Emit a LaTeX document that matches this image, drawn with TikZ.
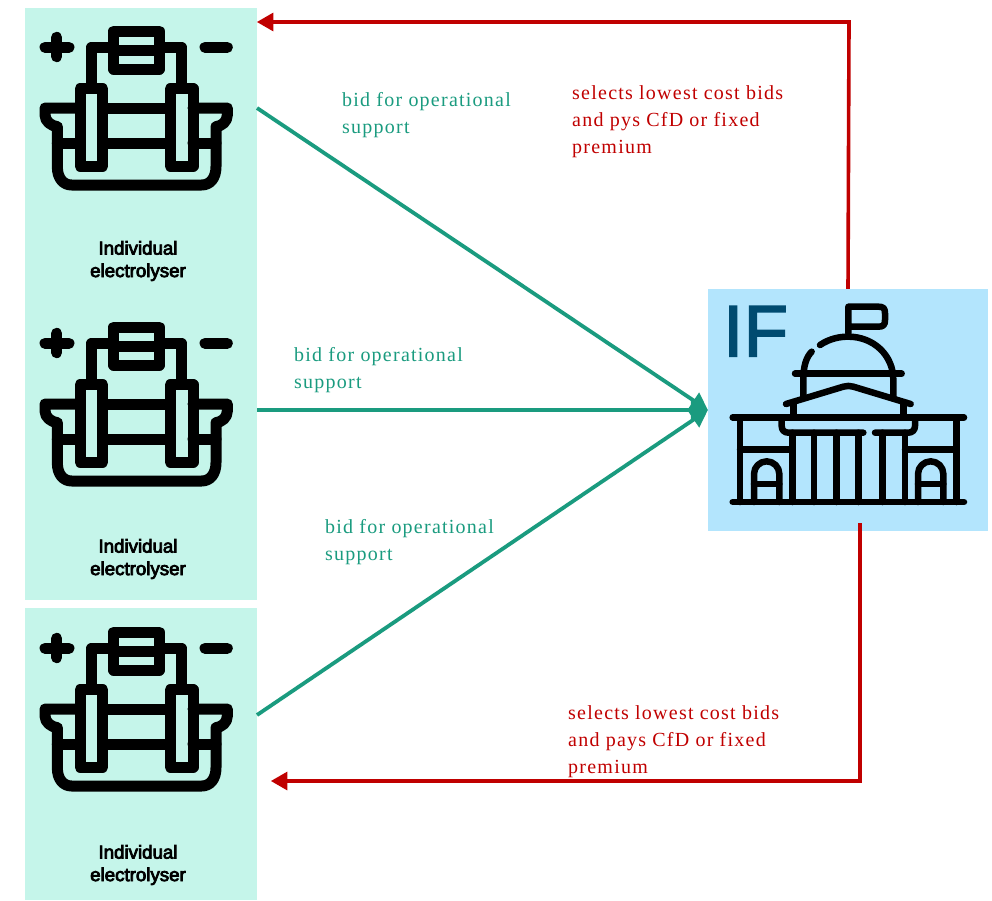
\documentclass[tikz,border=0pt]{standalone}
\usepackage{fontspec}
\setmainfont[LetterSpace=6.2]{Liberation Serif}
\newfontfamily\boxfont[FakeBold=4]{Liberation Sans}
\newfontfamily\iffont[FakeBold=2]{Liberation Sans}
\usetikzlibrary{calc}
\usetikzlibrary{arrows}
\definecolor{boxgreen}{HTML}{C5F5EA}
\definecolor{boxblue}{HTML}{B3E5FD}
\definecolor{bidgreen}{HTML}{1A9B7F}
\definecolor{payred}{HTML}{C00000}
\definecolor{ifblue}{HTML}{004B70}
\tikzset{%
  myedge/.style={->, >=triangle 60, line width=3.8pt},
  bidedge/.style={myedge, draw=bidgreen},
  payedge/.style={myedge, draw=payred, line width=3.6pt},
  mybox/.style={rectangle, fill=boxgreen, inner sep=0pt, minimum width=232pt},
  mylabel/.style={anchor=north west, inner sep=0pt, align=left, font=\fontsize{20}{27}\selectfont},
  boxlabel/.style={align=center, inner sep=0pt, font=\boxfont\fontsize{18.7}{22.5}\selectfont},
  icon/.style={line width=11pt, line cap=round, line join=round},
  thin icon/.style={line width=6.5pt, line cap=round, line join=round},
  electrolyser/.pic={
    \begin{scope}[scale=1/3, icon]
      \draw (75,142) -- (147,142) (110,112) -- (110,170);
      \draw (555,142) -- (622,142);
      \draw (281,93) rectangle (418,207) (281,151) -- (418,151);
      \draw (214,255) -- (214,142) -- (281,142);
      \draw (485,255) -- (485,142) -- (418,142);
      \draw (180,266) rectangle (248,498);
      \draw (451,266) rectangle (519,498);
      \draw (248,324) -- (451,324) (248,430) -- (451,430);
      \draw (180,324) -- (75,324) -- (75,345) .. controls (75,365) and (95,378) .. (112,380) -- (112,500) .. controls (112,535) and (130,555) .. (155,555) -- (545,555) .. controls (570,555) and (588,535) .. (588,500) -- (588,380) .. controls (605,378) and (622,365) .. (622,345) -- (622,324) -- (519,324);
      \draw (112,430) -- (180,430) (519,430) -- (588,430);
    \end{scope}
  },
  building/.pic={
    \begin{scope}[scale=1/3, thin icon]
      \draw (505,160) -- (505,80) -- (595,80) .. controls (610,80) and (615,85) .. (615,100) -- (615,120) .. controls (615,135) and (610,140) .. (595,140) -- (505,140);
      \draw (420,195) .. controls (450,175) and (480,170) .. (505,170) .. controls (580,170) and (640,225) .. (640,300) -- (640,350);
      \draw (395,215) .. controls (380,230) and (370,255) .. (370,300) -- (370,350);
      \draw (345,281) -- (665,281);
      \draw (318,372) -- (490,320) .. controls (500,317) and (510,317) .. (520,320) -- (692,372);
      \draw (340,372) -- (340,412) (670,372) -- (670,412);
      \draw (158,412) -- (852,412);
      \draw (305,420) -- (305,438) .. controls (305,450) and (313,458) .. (325,458) -- (550,458);
      \draw (585,458) -- (685,458) .. controls (697,458) and (705,450) .. (705,438) -- (705,420);
      \draw (180,412) -- (180,666) (830,412) -- (830,666);
      \foreach \colx in {337,402,470,535,608,675} {
        \draw (\colx,458) -- (\colx,666);
      }
      \draw (180,508) -- (337,508) (675,508) -- (830,508);
      \draw (158,666) -- (852,666);
      \foreach \doorx in {260,752} {
        \draw (\doorx-38,666) -- (\doorx-38,582) arc (180:360:38) -- (\doorx+38,666);
        \draw (\doorx-38,612) -- (\doorx+38,612);
      }
    \end{scope}
  }
}

\begin{document}
\begin{tikzpicture}[x=1pt, y=-1pt]
  \useasboundingbox (0,0) rectangle (992,900);
  \node[mybox, minimum height=296pt] (box1) at (141,156) {};
  \node[mybox, minimum height=296pt] (box2) at (141,452) {};
  \node[mybox, minimum height=292pt] (box3) at (141,754) {};
  \node[rectangle, fill=boxblue, inner sep=0pt, minimum width=280pt, minimum height=242pt] (ifbox) at (848,410) {};
  \pic at (20,0) {electrolyser};
  \pic at (20,296) {electrolyser};
  \pic at (20,601) {electrolyser};
  \pic at (680,280) {building};
  \node[boxlabel] (name1) at (138,261) {Individual\\electrolyser};
  \node[boxlabel] (name2) at (138,559) {Individual\\electrolyser};
  \node[boxlabel] (name3) at (138,865) {Individual\\electrolyser};
  \node[anchor=north west, inner sep=0pt, text=ifblue, font=\iffont\fontsize{73}{73}\selectfont] (iftext) at (723,306) {IF};
  \coordinate (bid1) at (257,108);
  \coordinate (bid2) at (257,410);
  \coordinate (bid3) at (257,715);
  \draw [bidedge] (bid1) -- (ifbox.west);
  \draw [bidedge] (bid2) -- (ifbox.west);
  \draw [bidedge] (bid3) -- (ifbox.west);
  \coordinate (paytop) at (849,22);
  \coordinate (payend1) at (257,22);
  \coordinate (payout) at (860,523);
  \coordinate (paylow) at (860,781);
  \coordinate (payend3) at (271,781);
  \draw [payedge] (ifbox.north) -- (paytop) -- (payend1);
  \draw [payedge] (payout) -- (paylow) -- (payend3);
  \node[mylabel, text=bidgreen] (bidtext1) at (342,92) {bid for operational\\support};
  \node[mylabel, text=bidgreen] (bidtext2) at (294,347) {bid for operational\\support};
  \node[mylabel, text=bidgreen] (bidtext3) at (325,519) {bid for operational\\support};
  \node[mylabel, text=payred] (paytext1) at (572,85) {selects lowest cost bids\\and pys CfD or fixed\\premium};
  \node[mylabel, text=payred] (paytext3) at (568,705) {selects lowest cost bids\\and pays CfD or fixed\\premium};
\end{tikzpicture}
\end{document}
